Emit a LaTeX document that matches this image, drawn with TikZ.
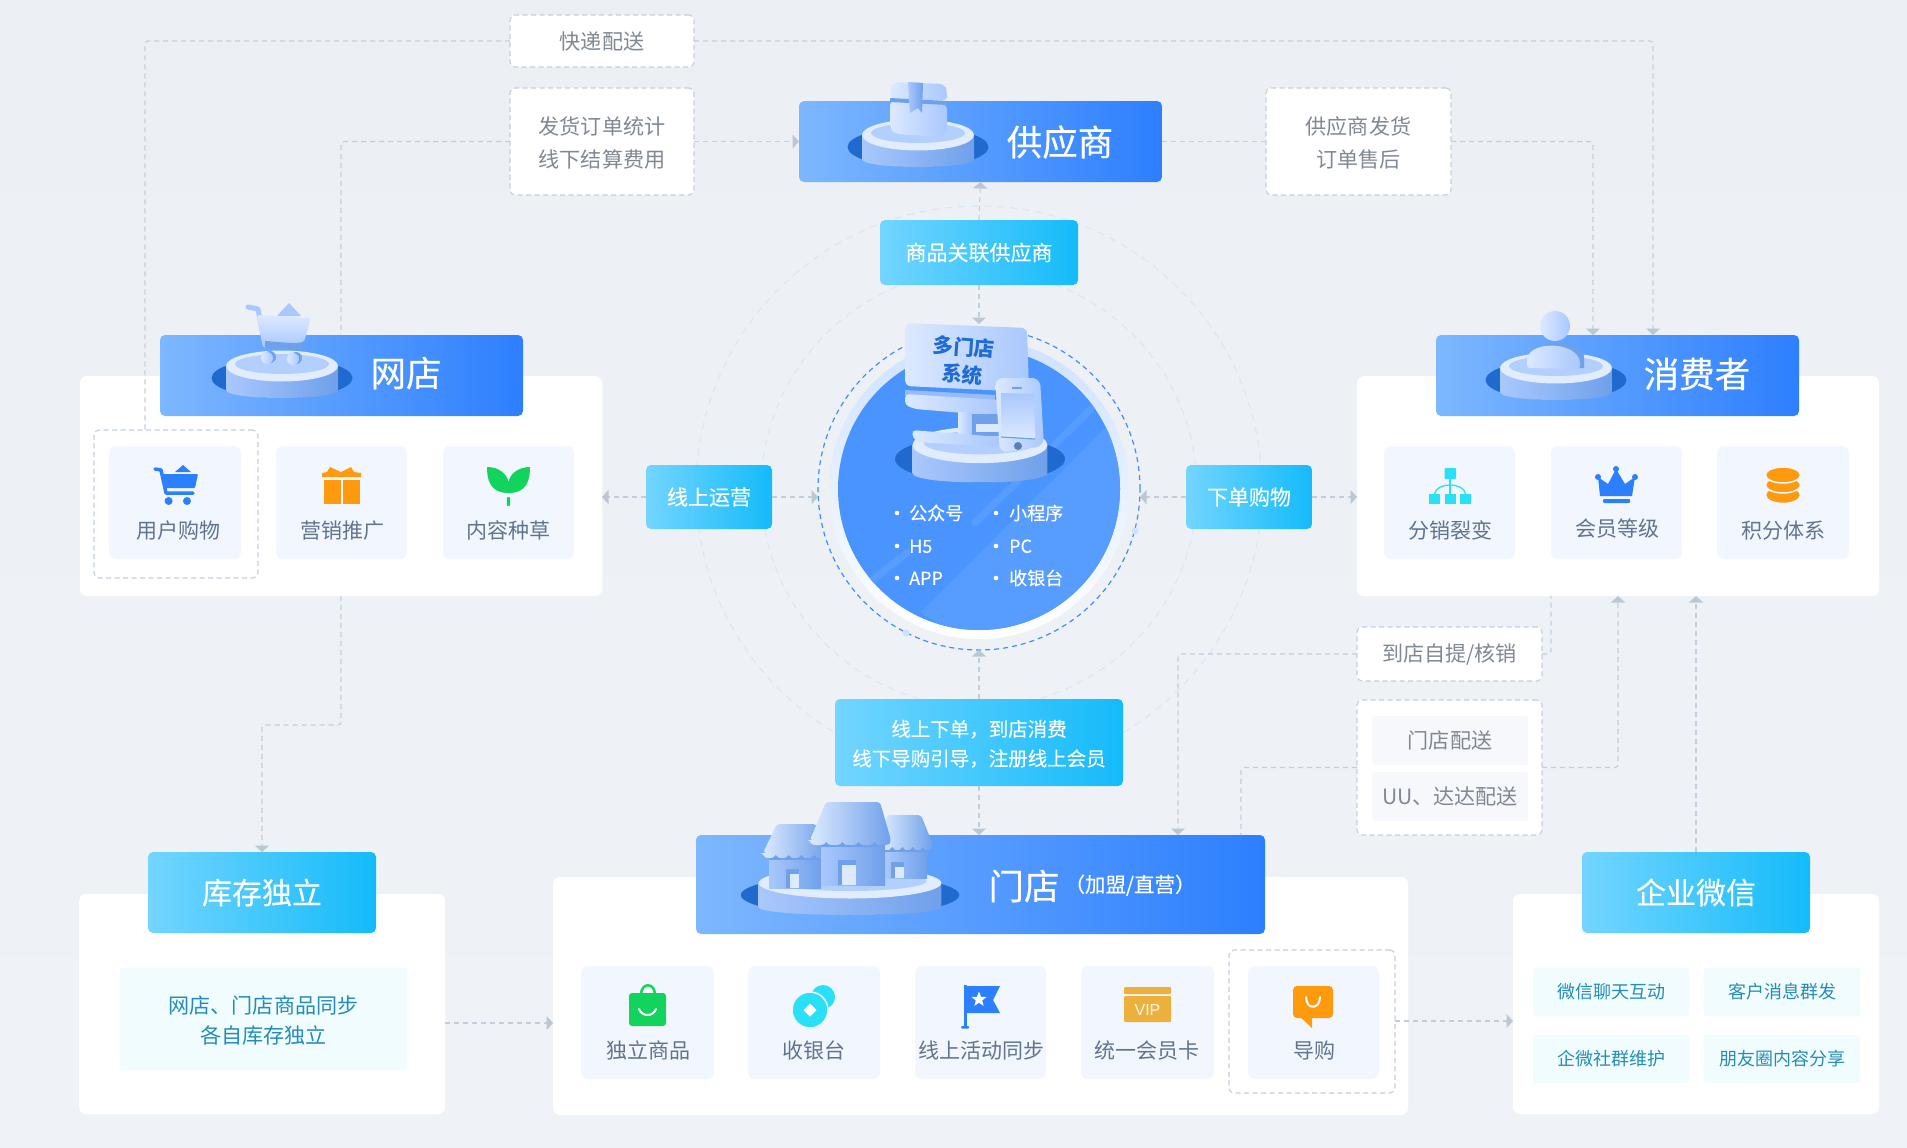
\documentclass[tikz,border=0pt]{standalone}
\usepackage{fontspec}
\setmainfont{Noto Sans CJK SC}
\newfontfamily\latinf{Liberation Sans}
\newfontfamily\hvy[FakeBold=0.3]{Noto Sans CJK SC}
\newfontfamily\hvl[FakeBold=0.12]{Noto Sans CJK SC}
\usetikzlibrary{arrows.meta,calc}
\definecolor{bgc}{HTML}{EEF2F6}
\definecolor{bgt}{HTML}{ECF0F5}
\definecolor{bgl}{HTML}{EFF3F7}
\definecolor{ringc}{HTML}{D9E6F6}
\definecolor{lnc}{HTML}{C2CEDC}
\definecolor{tipc}{HTML}{BBC7D2}
\definecolor{itemc}{HTML}{F2F6FE}
\definecolor{itxt}{HTML}{60748F}
\definecolor{dtxt}{HTML}{808894}
\definecolor{subb}{HTML}{F1FCFF}
\definecolor{subt}{HTML}{258DB5}
\definecolor{dkb}{HTML}{1F69CF}
\definecolor{iblue}{HTML}{2C7FFF}
\definecolor{iora}{HTML}{FF9A0E}
\definecolor{igrn}{HTML}{12D45C}
\definecolor{icya}{HTML}{29E0F7}
\definecolor{ivip}{HTML}{ECB03C}
\definecolor{cardl}{HTML}{DCE9FF}
\definecolor{cardm}{HTML}{A9C8FD}
\definecolor{cardd}{HTML}{6FA0EA}
\definecolor{crc}{HTML}{4A94FF}
\definecolor{F7}{HTML}{F7F8FB}
\definecolor{C1}{HTML}{CFE2FF}
\definecolor{C2}{HTML}{CFE2FF}
\definecolor{banL}{HTML}{7DB7FF}
\definecolor{banR}{HTML}{2D7FFF}
\definecolor{cyaL}{HTML}{73D5FF}
\definecolor{cyaR}{HTML}{14BBFA}
\newcommand{\nd}{\rule[-0.12em]{0pt}{1em}}
\newcommand{\ndt}{\rule{0pt}{1em}}
\tikzset{
  every node/.style={execute at begin node=\nd,execute at end node=\nd},
  card/.style={fill=white,rounded corners=7pt},
  banner/.style={left color=banL,right color=banR,rounded corners=5pt},
  cyanb/.style={left color=cyaL,right color=cyaR,rounded corners=5pt,text=white},
  itembox/.style={fill=itemc,rounded corners=7pt},
  dashbox/.style={draw=lnc,line width=1.1pt,dash pattern=on 5pt off 3.5pt,rounded corners=5pt},
  whitebox/.style={fill=white,dashbox,text=dtxt},
  subbox/.style={fill=subb,rounded corners=3pt,text=subt},
  greyb/.style={fill=F7,rounded corners=3pt,text=dtxt},
  itm/.style={text=itxt,font=\fontsize{21}{25}\selectfont,inner sep=0pt},
  conn/.style={draw=lnc,line width=1.1pt,dash pattern=on 5pt off 4pt,rounded corners=3pt},
  arr/.style={conn,-{Triangle[length=6.5pt,width=14pt,fill=tipc,color=tipc]}},
  ttl/.style={text=white,inner sep=0pt},
  lst/.style={text=white,anchor=west,inner sep=0pt,font=\hvl\fontsize{18}{22}\selectfont},
}
\newcommand{\pxbox}[7]{\node[#1,minimum width={(#5-#3)*1pt},minimum height={(#6-#4)*1pt},inner sep=0pt,outer sep=0pt] (#2) at ({(#3+#5)/2},{(#4+#6)/2}) {#7};}
\newcommand{\platf}[5]{%
\begin{scope}[shift={(#1,#2)},xscale=#3,yscale=#4]
  \fill[dkb] (0,12) ellipse [x radius=#5,y radius=20];
  \shade[left color=cardm,right color=cardd] (-56,0) -- (-56,24) .. controls (-56,34.7) and (56,34.7) .. (56,24) -- (56,0) -- cycle;
  \fill[cardl!85!white] (0,0) ellipse [x radius=56,y radius=15.5];
  \fill[cardm!80!cardl] (0,-2) ellipse [x radius=47,y radius=10];
\end{scope}}
\begin{document}
\begin{tikzpicture}[x=1pt,y=-1pt]
\useasboundingbox (0,0) rectangle (1907,1148);
\shade[top color=bgt,bottom color=bgl] (0,0) rectangle (1907,1148);
% rings
\draw[ringc,line width=1.1pt,dash pattern=on 7pt off 6pt] (979,489) circle [radius=283];
\draw[ringc,line width=1.1pt,dash pattern=on 7pt off 6pt] (979,489) circle [radius=218];
% cards
\pxbox{card}{cWang}{80}{376}{602}{596}{}
\pxbox{card}{cXiao}{1357}{376}{1879}{596}{}
\pxbox{card}{cKu}{79}{894}{445}{1114}{}
\pxbox{card}{cMen}{553}{877}{1408}{1115}{}
\pxbox{card}{cQi}{1513}{894}{1879}{1114}{}
% banners
\pxbox{banner}{bGong}{799}{101}{1162}{182}{}
\pxbox{banner}{bWang}{160}{335}{523}{416}{}
\pxbox{banner}{bXiao}{1436}{335}{1799}{416}{}
\pxbox{banner}{bMen}{696}{835}{1265}{934}{}
\pxbox{cyanb,font=\hvl\fontsize{30}{34}\selectfont}{bKu}{148}{852}{376}{933}{库存独立}
\pxbox{cyanb,font=\hvl\fontsize{30}{34}\selectfont}{bQi}{1582}{852}{1810}{933}{企业微信}
% titles
\node[ttl,font=\hvy\fontsize{35.5}{40}\selectfont] (tGong) at (1060,142) {供应商};
\node[ttl,font=\hvy\fontsize{35.5}{40}\selectfont] (tWang) at (406,373) {网店};
\node[ttl,font=\hvy\fontsize{35.5}{40}\selectfont] (tXiao) at (1697,374) {消费者};
\node[ttl,font=\hvy\fontsize{35.5}{40}\selectfont] (tMen) at (1024,886) {门店};
\node[ttl,font=\hvl\fontsize{20.5}{24}\selectfont] (tMen2) at (1130,885) {（加盟/直营）};
% mid boxes
\pxbox{cyanb,font=\hvl\fontsize{21}{24}\selectfont}{mGuan}{880}{220}{1078}{285}{商品关联供应商}
\pxbox{cyanb,font=\hvl\fontsize{21}{24}\selectfont}{mYun}{646}{465}{772}{529}{线上运营}
\pxbox{cyanb,font=\hvl\fontsize{21}{24}\selectfont}{mXia}{1186}{465}{1312}{529}{下单购物}
\pxbox{cyanb,font=\hvl\fontsize{19.5}{29.5}\selectfont,align=center}{mDao}{835}{699}{1123}{786}{\ndt 线上下单，到店消费\\线下导购引导，注册线上会员}
% dashed boxes
\pxbox{whitebox,font=\fontsize{21.1}{25}\selectfont}{dKuai}{510}{15}{694}{67}{快递配送}
\pxbox{whitebox,font=\fontsize{21.1}{33}\selectfont,align=center}{dFa}{510}{88}{694}{195}{\ndt 发货订单统计\\线下结算费用}
\pxbox{whitebox,font=\fontsize{21.1}{33}\selectfont,align=center}{dGong}{1266}{88}{1451}{195}{\ndt 供应商发货\\订单售后}
\pxbox{whitebox,font=\fontsize{21.1}{25}\selectfont}{dDian}{1357}{627}{1542}{681}{到店自提/核销}
\pxbox{whitebox}{dPei}{1357}{700}{1542}{835}{}
\pxbox{greyb,font=\fontsize{21.1}{25}\selectfont}{gMen}{1372}{716}{1528}{765}{门店配送}
\pxbox{greyb,font=\fontsize{21.1}{25}\selectfont}{gUU}{1372}{772}{1528}{821}{UU、达达配送}
\pxbox{dashbox}{dUser}{94}{430}{258}{578}{}
\pxbox{dashbox}{dGuide}{1229}{950}{1395}{1093}{}
% items
\pxbox{itembox}{i1}{109}{446}{241}{559}{}
\pxbox{itembox}{i2}{276}{446}{407}{559}{}
\pxbox{itembox}{i3}{443}{446}{574}{559}{}
\pxbox{itembox}{i4}{1384}{446}{1515}{559}{}
\pxbox{itembox}{i5}{1551}{446}{1682}{559}{}
\pxbox{itembox}{i6}{1717}{446}{1849}{559}{}
\pxbox{itembox}{i7}{581}{966}{714}{1079}{}
\pxbox{itembox}{i8}{748}{966}{880}{1079}{}
\pxbox{itembox}{i9}{915}{966}{1046}{1079}{}
\pxbox{itembox}{i10}{1081}{966}{1214}{1079}{}
\pxbox{itembox}{i11}{1248}{966}{1379}{1079}{}
\node[itm] (l1) at (178,531) {用户购物};
\node[itm] (l2) at (342,531) {营销推广};
\node[itm] (l3) at (508,531) {内容种草};
\node[itm] (l4) at (1450,531) {分销裂变};
\node[itm] (l5) at (1617,529) {会员等级};
\node[itm] (l6) at (1783,531) {积分体系};
\node[itm] (l7) at (648,1051) {独立商品};
\node[itm] (l8) at (814,1051) {收银台};
\node[itm] (l9) at (981,1051) {线上活动同步};
\node[itm] (l10) at (1147,1051) {统一会员卡};
\node[itm] (l11) at (1314,1051) {导购};
% inner panels
\pxbox{subbox,font=\fontsize{21.1}{30}\selectfont,align=center}{pKu}{120}{968}{407}{1070}{\ndt 网店、门店商品同步\\各自库存独立}
\pxbox{subbox,font=\fontsize{18}{22}\selectfont}{s1}{1533}{968}{1689}{1016}{微信聊天互动}
\pxbox{subbox,font=\fontsize{18}{22}\selectfont}{s2}{1704}{968}{1860}{1016}{客户消息群发}
\pxbox{subbox,font=\fontsize{18}{22}\selectfont}{s3}{1533}{1035}{1689}{1083}{企微社群维护}
\pxbox{subbox,font=\fontsize{18}{22}\selectfont}{s4}{1704}{1035}{1860}{1083}{朋友圈内容分享}
% central circle
\node[minimum size=300pt,circle,inner sep=0pt,outer sep=0pt,top color=C1,bottom color=white] (ring) at (979,489) {};
\node[minimum size=322pt,circle,inner sep=0pt,outer sep=0pt,draw=iblue!90!white,line width=1.2pt,dash pattern=on 5pt off 4pt] (dashc) at (979,489) {};
\node[minimum size=282pt,circle,inner sep=0pt,outer sep=0pt,fill=crc] (core) at (979,489) {};
\begin{scope}
  \clip (979,489) circle [radius=141];
  \fill[crc!93!white] (1108,425) -- (920,613) -- (1000,660) -- (1150,560) -- (1150,385) -- cycle;
  \draw[crc!93!white,line width=7pt,line cap=round] (1095,405) -- (975,523);
  \draw[crc!93!white,line width=7pt,line cap=round] (908,552) -- (860,590);
\end{scope}
\fill[C2] (1135,531) circle [radius=3.5];
\fill[C2] (906,633) circle [radius=3.5];
% connector anchors
\coordinate (aUser) at (145,430);
\coordinate (aShop) at (341,335);
\coordinate (aCons1) at (1653,335);
\coordinate (aCons2) at (1593,335);
\coordinate (aScr) at (979,324);
\coordinate (aStock) at (262,725);
\coordinate (aStore1) at (1178,835);
\coordinate (aStore2) at (1241,835);
\coordinate (aPick) at (1551,596);
\coordinate (aDeli) at (1618,596);
\coordinate (aWe) at (1696,596);
\coordinate (cTop) at (979,650);
\coordinate (cL) at (818,497);
\coordinate (cR) at (1140,497);
\coordinate (aK1) at (445,1023);
\coordinate (aG1) at (1395,1021);
% connectors
\draw[conn] (dKuai.west) -| (aUser);
\draw[arr] (dKuai.east) -| (aCons1);
\draw[conn] (dFa.west) -| (aShop);
\draw[arr] (dFa.east) -- (bGong.west);
\draw[conn] (bGong.east) -- (dGong.west);
\draw[arr] (dGong.east) -| (aCons2);
\draw[arr] (mGuan.north) -- (bGong.south);
\draw[arr] (mGuan.south) -- (aScr);
\draw[arr] (mYun.west) -- (mYun.west -| cWang.east);
\draw[arr] (mYun.east) -- (cL);
\draw[arr] (mXia.west) -- (cR);
\draw[arr] (mXia.east) -- (mXia.east -| cXiao.west);
\draw[arr] (mDao.north) -- (cTop);
\draw[arr] (mDao.south) -- (mDao.south |- bMen.north);
\draw[arr] (cWang.south) |- (aStock) -- (bKu.north);
\draw[arr] (aK1) -- (aK1 -| cMen.west);
\draw[arr] (aG1) -- (aG1 -| cQi.west);
\draw[arr] (dDian.west) -| (aStore1);
\draw[conn] (dDian.east) -| (aPick);
\draw[conn] (dPei.west) -| (aStore2);
\draw[arr] (dPei.east) -| (aDeli);
\draw[arr] (bQi.north) -- (aWe);
% platforms
\platf{918}{135}{1}{1}{70.5}
\platf{282}{366}{1}{1}{70.5}
\platf{1556}{368}{1}{1}{70.5}
\platf{850}{883}{1.63}{1}{67}
\platf{980}{445}{1.205}{1.17}{70.5}
% parcel illustration
\shade[left color=cardl,right color=cardm,rounded corners=6pt] (890,100) -- (947,104) -- (947,130) -- (942,137) -- (895,134) -- (890,128) -- cycle;
\shade[left color=cardl,right color=cardm,rounded corners=6pt] (890,88) -- (894,82) -- (945,84) -- (947,92) -- (947,101) -- (890,98) -- cycle;
\fill[cardd] (890,98) -- (947,101) -- (947,105) -- (890,102) -- cycle;
\shade[left color=cardm,right color=cardd] (908,82) -- (923,83) -- (922,113) -- (918,108) -- (910,113) -- cycle;
% cart illustration
\draw[cardm,line width=5pt,line cap=round,line join=round] (248,307) -- (258,309) -- (265,345);
\fill[cardm] (277,316) -- (289,303) -- (301,316) -- cycle;
\shade[top color=cardl,bottom color=cardm,rounded corners=2pt] (257,315) -- (311,318) -- (304,342) -- (263,347) -- cycle;
\fill[cardd] (265,341) -- (303,344) -- (303,349) -- (265,347) -- cycle;
\fill[cardd] (270,357) circle [radius=6];
\fill[cardd] (296,358) circle [radius=6];
\shade[left color=cardl,right color=cardm] (267,358) circle [radius=6];
\shade[left color=cardl,right color=cardm] (293,359) circle [radius=6];
% person
\fill[cardd] (1535,355) .. controls (1540,340) and (1575,338) .. (1584,355) -- (1584,368) -- (1575,368) -- cycle;
\shade[left color=cardl,right color=cardm,rounded corners=3pt] (1527,368) -- (1527,358) .. controls (1535,342) and (1570,342) .. (1580,360) -- (1580,369) -- cycle;
\shade[left color=cardl,right color=cardm] (1555,326) circle [radius=15];
% shops
\foreach \xl/\xtl/\xtr/\xr/\yt/\ym/\wa/\wb/\wy/\da/\db/\dt in {
 882/887/921/933/815/845/885/927/878/891/904/862,
 763/777/816/827/824/853/769/821/888/786/799/869,
 810/826/880/891/802/840/821/885/885/838/856/860}{
  \pgfmathsetmacro{\bw}{(\xr-\xl)/5}
  \shade[left color=cardm,right color=cardd] (\wa,\ym) rectangle (\wb,\wy);
  \fill[cardd] (\da,\dt) rectangle (\db,\wy);
  \fill[cardl] (\da+4,\dt+5) rectangle (\db,\wy);
  \fill[cardd] (\wa,\ym) rectangle (\wb,\ym+7);
  \shade[left color=cardl,right color=cardd,rounded corners=3pt] (\xl,\ym) -- (\xtl,\yt) -- (\xtr,\yt) -- (\xr,\ym)
    \foreach \k in {1,...,5}{ .. controls +(-2,6) and +(2,6) .. ++(-\bw,0) } -- cycle;
}
% monitor
\shade[left color=cardl,right color=cardm,rounded corners=6pt] (905,323) -- (1027,328) -- (1029,392) -- (905,386) -- cycle;
\node[text=dkb!90!iblue,font=\fontsize{20.5}{27}\bfseries\selectfont,align=center,rotate=-4,inner sep=0pt] (tSys) at (963,361) {多门店\\系统};
\fill[cardm!70!cardd] (905,390) -- (995,395) -- (995,400) -- (905,396) -- cycle;
\shade[left color=cardl,right color=cardm,rounded corners=4pt] (905,394) -- (1000,400) -- (1000,416) -- (915,409) -- (905,405) -- cycle;
\shade[left color=cardl,right color=cardm] (958,412) rectangle (972,436);
\fill[cardd] (972,414) rectangle (1000,436);
\fill[cardl] (976,424) rectangle (1000,432);
\shade[left color=cardl,right color=cardm,rounded corners=5pt] (911,430) -- (1000,437) -- (1000,447) -- (915,442) -- cycle;
% phone
\shade[left color=cardl,right color=cardm,rounded corners=8pt] (995,378) -- (1040,378) -- (1044,446) -- (1000,453) -- cycle;
\shade[top color=cardm,bottom color=cardl] (1001,393) -- (1034,394) -- (1035,439) -- (1002,437) -- cycle;
\draw[cardd,line width=1.2pt] (1001,437) -- (1035,439);
\draw[cardd,line width=2pt] (1012,388) -- (1022,388);
\fill[cardd!80!black] (1018,446) circle [radius=4];
% centre list
\foreach \n/\x/\y in {a/897/513,b/897/546,c/897/578,d/996/513,e/996/546,f/996/578}{\fill[white] (\x,\y) circle [radius=2.3];}
\node[lst] (w1) at (909,513) {公众号};
\node[lst] (w2) at (909,546) {H5};
\node[lst] (w3) at (909,578) {APP};
\node[lst] (w4) at (1009,513) {小程序};
\node[lst] (w5) at (1009,546) {PC};
\node[lst] (w6) at (1009,578) {收银台};
% icon: cart
\draw[iblue,line width=3.5pt,line cap=round,line join=round] (155,469) -- (161,470) -- (166,493) -- (193,493);
\fill[iblue] (175,472) -- (183,465) -- (191,472) -- cycle;
\fill[iblue,rounded corners=1pt] (161,474) -- (198,474) -- (195,488) -- (164,488) -- cycle;
\fill[iblue] (168.6,501) circle [radius=4];
\fill[iblue] (187,501) circle [radius=4];
% icon: gift
\fill[iora] (322,477) -- (322,473) -- (327,472) -- (330,467) -- (341,472) -- (351,467) -- (354,472) -- (361,473) -- (361,477) -- cycle;
\fill[iora] (324.4,480) rectangle (341,504);
\fill[iora] (343,480) rectangle (359.5,504);
% icon: sprout
\fill[igrn] (487,467) .. controls (487,480) and (490,493) .. (508.5,493) .. controls (527,493) and (530,480) .. (530,467) .. controls (518,467) and (510,474) .. (508.5,482) .. controls (507,474) and (499,467) .. (487,467) -- cycle;
\fill[igrn,rounded corners=1pt] (506.8,497) rectangle (510.2,506);
% icon: tree
\fill[icya,rounded corners=1pt] (1444.5,468) rectangle (1456,479);
\fill[icya] (1429,494) rectangle (1440,504);
\fill[icya] (1444.5,494) rectangle (1456,504);
\fill[icya] (1460,494) rectangle (1471,504);
\draw[icya,line width=1.3pt] (1450,479) -- (1450,494);
\draw[icya,line width=1.3pt] (1434.5,494) .. controls (1436,482) and (1464,482) .. (1465.5,494);
% icon: crown
\fill[iblue] (1600,496) -- (1598,477) -- (1608,484) -- (1616,469) -- (1625,484) -- (1635,477) -- (1632,496) -- cycle;
\fill[iblue] (1598,477) circle [radius=3];
\fill[iblue] (1616,469) circle [radius=3];
\fill[iblue] (1635,477) circle [radius=3];
\fill[iblue,rounded corners=1pt] (1603,499) rectangle (1630,503);
% icon: coins stack
\fill[iora,draw=itemc,line width=1.5pt] (1783,495) ellipse [x radius=17.5,y radius=8.5];
\fill[iora,draw=itemc,line width=1.5pt] (1783,485) ellipse [x radius=17.5,y radius=8];
\fill[iora,draw=itemc,line width=1.5pt] (1783,475) ellipse [x radius=17.5,y radius=8];
% icon: bag
\draw[igrn,line width=2.5pt] (641,995) .. controls (641,982) and (655,982) .. (655,995);
\fill[igrn,rounded corners=3pt] (629,993) rectangle (666,1026);
\draw[white,line width=2pt,line cap=round] (639,1009) .. controls (642,1017) and (653,1017) .. (656,1009);
% icon: coins cyan
\fill[icya] (823,997) circle [radius=12];
\fill[icya,draw=itemc,line width=1.5pt] (810,1010) circle [radius=18];
\fill[white] (810,1003.5) -- (816.5,1010) -- (810,1016.5) -- (803.5,1010) -- cycle;
% icon: flag
\fill[iblue] (964,985) rectangle (966.5,1027);
\fill[iblue,rounded corners=1pt] (961,1026) rectangle (969,1028.5);
\fill[iblue] (964,986) -- (1000,986) -- (993,1000) -- (1000,1013) -- (964,1013) -- cycle;
\fill[white] (979,991.5) -- (981,996.8) -- (986.5,997) -- (982.2,1000.4) -- (983.6,1005.8) -- (979,1002.8) -- (974.4,1005.8) -- (975.8,1000.4) -- (971.5,997) -- (977,996.8) -- cycle;
% icon: vip
\fill[ivip,rounded corners=1pt] (1124,987) rectangle (1171,994);
\fill[ivip,rounded corners=1pt] (1124,996) rectangle (1171,1022);
\node[text=white!88!ivip,font=\latinf\fontsize{16}{18}\selectfont,inner sep=0pt] (tVip) at (1147.5,1009) {VIP};
% icon: guide
\fill[iora,rounded corners=4pt] (1293,986) rectangle (1333,1018);
\fill[iora] (1299,1016) -- (1312,1028) -- (1312,1016) -- cycle;
\draw[white,line width=2pt,line cap=round] (1306,997) .. controls (1306,1010) and (1320,1010) .. (1320,997);
\end{tikzpicture}
\end{document}
